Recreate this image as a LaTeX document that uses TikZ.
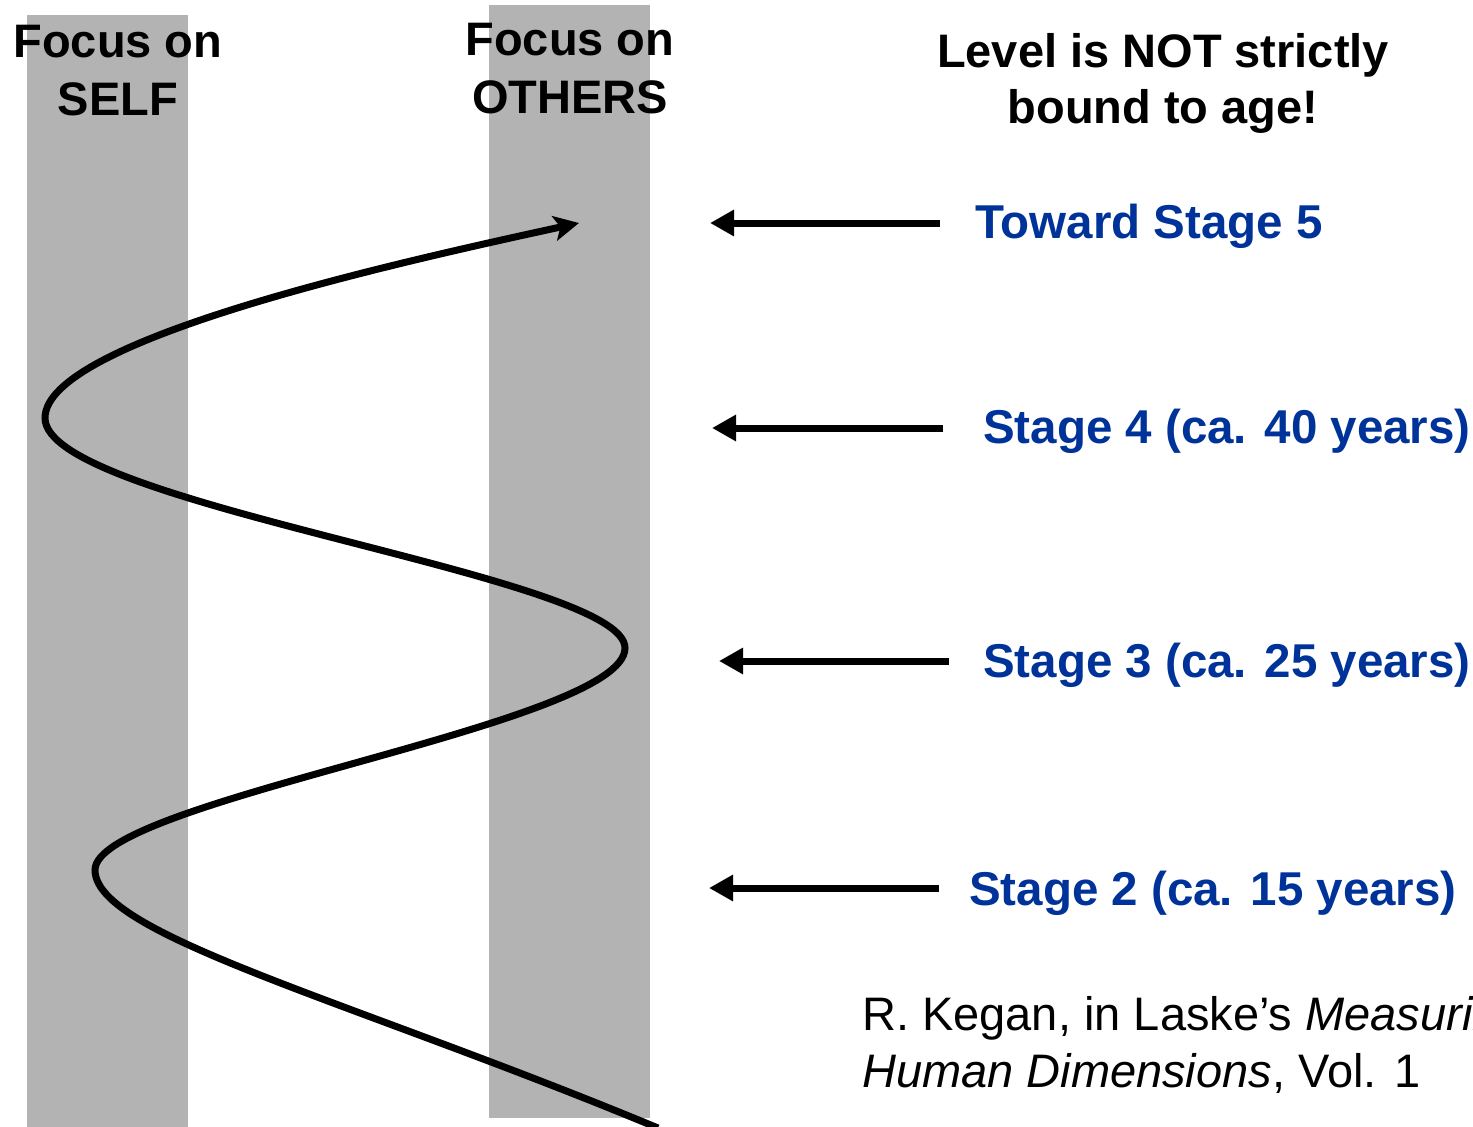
\documentclass[tikz,border=0pt]{standalone}
\usepackage{fontspec}
\setmainfont{Liberation Sans}
\usetikzlibrary{arrows.meta}
\definecolor{bandgray}{HTML}{B3B3B3}
\definecolor{stageblue}{HTML}{003399}
\begin{document}
\begin{tikzpicture}[x=1pt,y=-1pt,
  band/.style={fill=bandgray,draw=none},
  head/.style={font=\fontsize{47}{58}\selectfont\bfseries,align=center,inner sep=0pt},
  stagelbl/.style={font=\fontsize{47.5}{56}\selectfont\bfseries,text=stageblue,anchor=base west,inner sep=0pt},
  cite/.style={font=\fontsize{47}{57}\selectfont,anchor=base west,inner sep=0pt},
  levelarrow/.style={line width=7pt,-{Triangle[length=24pt,width=25pt]}},
  spiral/.style={line width=7pt,-{Stealth[length=25pt,width=25pt,inset=6pt]}}]
\useasboundingbox (0,0) rectangle (1473,1127);
\fill[white] (0,0) rectangle (1473,1127);
% bands
\path[band] (27,15) rectangle (188,1127);
\path[band] (489,5) rectangle (650,1118);
% headings (anchor base = baseline of last line)
\node[head,anchor=base] (self) at (118,115) {Focus on\\SELF};
\node[head,anchor=base] (others) at (570,113) {Focus on\\OTHERS};
\node[head,anchor=base,font=\fontsize{47}{56}\selectfont\bfseries] (level) at (1163,123) {Level is NOT strictly\\bound to age!};
% spiral
\coordinate (s0) at (658,1128);
\coordinate (l2) at (95,870);
\coordinate (r3) at (625,648);
\coordinate (l4) at (45,418);
\coordinate (tip) at (579,223);
\draw[spiral] (s0) .. controls (350,1000) and (95,935) .. (l2)
  .. controls (95,800) and (625,725) .. (r3)
  .. controls (625,575) and (45,505) .. (l4)
  .. controls (45,340) and (400,262) .. (tip);
% stage labels
\node[stagelbl] (st5) at (975,238) {Toward Stage 5};
\node[stagelbl] (st4) at (983,443) {Stage 4 (ca. 40 years)};
\node[stagelbl] (st3) at (983,677) {Stage 3 (ca. 25 years)};
\node[stagelbl] (st2) at (969,905) {Stage 2 (ca. 15 years)};
% arrows
\coordinate (a5s) at (940,223); \coordinate (a5e) at (710,223);
\coordinate (a4s) at (943,428); \coordinate (a4e) at (712,428);
\coordinate (a3s) at (949,661); \coordinate (a3e) at (719,661);
\coordinate (a2s) at (939,888); \coordinate (a2e) at (709,888);
\draw[levelarrow] (a5s) -- (a5e);
\draw[levelarrow] (a4s) -- (a4e);
\draw[levelarrow] (a3s) -- (a3e);
\draw[levelarrow] (a2s) -- (a2e);
% citation
\node[cite] (cite1) at (862,1030) {R. Kegan, in Laske’s \textit{Measuring}};
\node[cite] (cite2) at (862,1087) {\textit{Human Dimensions}, Vol. 1};
\end{tikzpicture}
\end{document}
